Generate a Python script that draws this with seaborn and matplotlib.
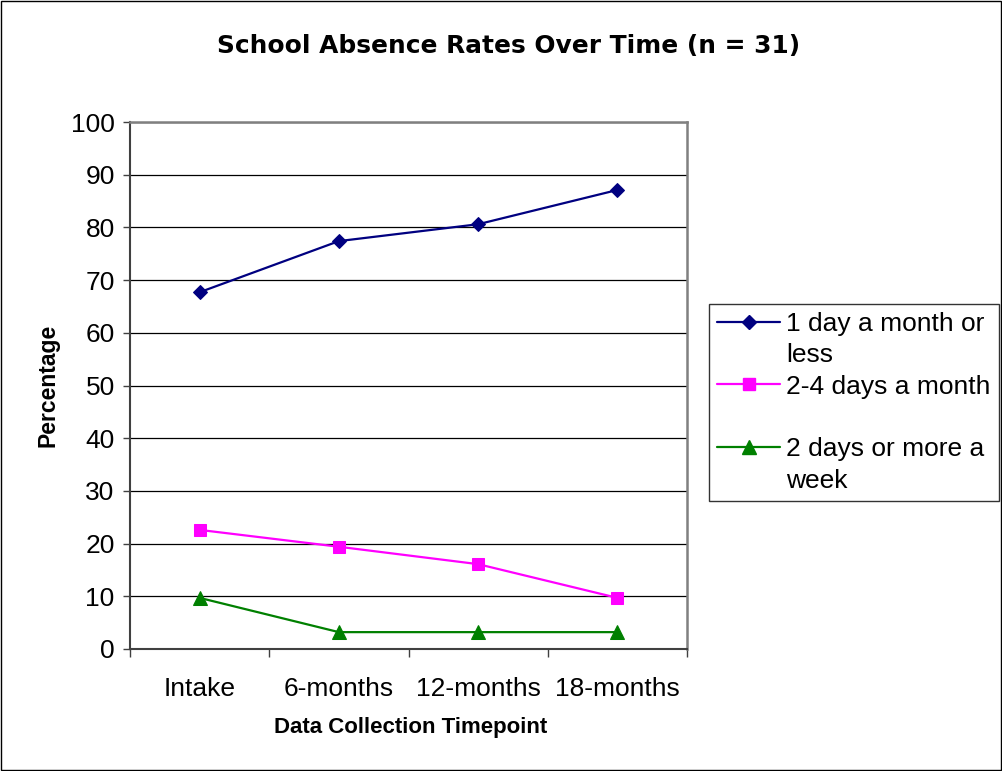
import numpy as np
import pandas as pd
import seaborn as sns
import matplotlib.pyplot as plt
from matplotlib.lines import Line2D
from matplotlib.patches import Rectangle

# data (percent of n = 31)
timepoints = ["Intake", "6-months", "12-months", "18-months"]
one_day = [67.7, 77.4, 80.6, 87.1]
two_four_days = [22.6, 19.4, 16.1, 9.7]
two_plus_week = [9.7, 3.2, 3.2, 3.2]
series_names = ["1 day a month or less", "2-4 days a month", "2 days or more a week"]

df = pd.DataFrame({
    "Timepoint": timepoints * 3,
    "Percentage": one_day + two_four_days + two_plus_week,
    "Series": [series_names[0]] * 4 + [series_names[1]] * 4 + [series_names[2]] * 4,
})

colors = {series_names[0]: "#000080", series_names[1]: "#FF00FF", series_names[2]: "#008000"}
markers = {series_names[0]: "D", series_names[1]: "s", series_names[2]: "^"}
msizes = {series_names[0]: 7.5, series_names[1]: 9, series_names[2]: 9.5}

sns.set_style("white")
plt.rcParams['font.family'] = ['Liberation Sans', 'DejaVu Sans']
plt.rcParams['text.color'] = 'black'
plt.rcParams['axes.labelcolor'] = 'black'
plt.rcParams['xtick.labelcolor'] = 'black'
plt.rcParams['ytick.labelcolor'] = 'black'

fig = plt.figure(figsize=(10.02, 7.71), dpi=100)
ax = fig.add_axes([130/1002, 1-649/771, 557/1002, 527/771])

for name in series_names:
    sns.lineplot(data=df[df["Series"] == name], x="Timepoint", y="Percentage",
                 color=colors[name], marker=markers[name], markersize=msizes[name],
                 markeredgecolor=colors[name], linewidth=1.6, ax=ax, legend=False,
                 zorder=3)

ax.set_ylim(0, 100)
ax.set_xlim(-0.5, 3.5)
ax.set_yticks(np.arange(0, 101, 10))
ax.yaxis.grid(True, color="black", linewidth=0.9)
ax.xaxis.grid(False)
ax.tick_params(axis="y", labelsize=19, length=5, width=1, color="#404040", pad=6, left=True)

# Excel-style category ticks between labels
ax.set_xticks(np.arange(-0.5, 3.6, 1))
ax.set_xticklabels([])
ax.set_xticks(range(len(timepoints)), minor=True)
ax.set_xticklabels(timepoints, minor=True)
ax.tick_params(axis="x", which="major", length=6, width=1, color="#404040", bottom=True)
ax.tick_params(axis="x", which="minor", length=0, labelsize=19, pad=20)

for side in ["top", "right"]:
    ax.spines[side].set_color("#808080")
    ax.spines[side].set_linewidth(1.8)
for side in ["left", "bottom"]:
    ax.spines[side].set_color("#404040")
    ax.spines[side].set_linewidth(1.5)

ax.set_xlabel("")
ax.set_ylabel("")
fig.text(411/1002, 1-727/771, "Data Collection Timepoint", ha="center", va="center",
         fontsize=16, fontweight="bold")
fig.text(48/1002, 1-385/771, "Percentage", ha="center", va="center", rotation=90,
         fontsize=16.5, fontweight="bold")
fig.text(509/1002, 1-46/771, "School Absence Rates Over Time (n = 31)", ha="center",
         va="center", fontsize=17.9, fontweight="bold", family=["DejaVu Sans"])

# legend: label lines split so handles sit on first line
blank = Line2D([], [], linestyle="none", marker=None)
handles, labels = [], []
label_lines = [["1 day a month or", "less"], ["2-4 days a month", ""], ["2 days or more a", "week"]]
for name, lines in zip(series_names, label_lines):
    handles.append(Line2D([], [], color=colors[name], marker=markers[name],
                          markersize=msizes[name], linewidth=1.6))
    labels.append(lines[0])
    handles.append(blank)
    labels.append(lines[1])
leg = fig.legend(handles, labels, loc="upper left", bbox_to_anchor=(709/1002, 1-304/771),
                 borderaxespad=0, fontsize=19, frameon=True, fancybox=False,
                 edgecolor="black", handlelength=2.4, handletextpad=0.23,
                 labelspacing=0.28, borderpad=0.3)
leg.get_frame().set_linewidth(1)

fig.patches.append(Rectangle((0.001, 0.001), 0.998, 0.998, transform=fig.transFigure,
                             fill=False, edgecolor="black", linewidth=1))

fig.savefig("out.png", dpi=100)
